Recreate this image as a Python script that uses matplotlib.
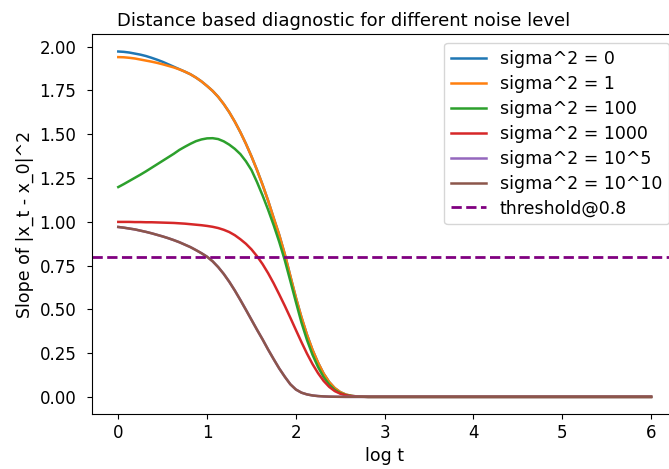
import matplotlib
matplotlib.use('Agg')
import matplotlib.pyplot as plt

# log t sample points (step 0.0625 up to 3, then the flat tail out to 6)
log_t = [0.0, 0.0625, 0.125, 0.1875, 0.25, 0.3125, 0.375, 0.4375,
         0.5, 0.5625, 0.625, 0.6875, 0.75, 0.8125, 0.875, 0.9375,
         1.0, 1.0625, 1.125, 1.1875, 1.25, 1.3125, 1.375, 1.4375,
         1.5, 1.5625, 1.625, 1.6875, 1.75, 1.8125, 1.875, 1.9375,
         2.0, 2.0625, 2.125, 2.1875, 2.25, 2.3125, 2.375, 2.4375,
         2.5, 2.5625, 2.625, 2.6875, 2.75, 2.8125, 2.875, 2.9375,
         3.0, 6.0]

# slope values, one list per noise level
slope_0 = [1.972, 1.970, 1.966, 1.960, 1.954, 1.946, 1.936, 1.925,
           1.913, 1.899, 1.885, 1.871, 1.857, 1.842, 1.823, 1.801,
           1.775, 1.747, 1.713, 1.672, 1.625, 1.571, 1.511, 1.445,
           1.373, 1.295, 1.211, 1.120, 1.021, 0.925, 0.815, 0.690,
           0.567, 0.455, 0.355, 0.268, 0.195, 0.133, 0.085, 0.050,
           0.027, 0.013, 0.006, 0.0025, 0.001, 0.0, 0.0, 0.0,
           0.0, 0.0]
slope_1 = [1.940, 1.939, 1.936, 1.932, 1.926, 1.920, 1.914, 1.907,
           1.899, 1.890, 1.881, 1.870, 1.857, 1.842, 1.823, 1.801,
           1.775, 1.747, 1.713, 1.672, 1.625, 1.571, 1.511, 1.445,
           1.373, 1.295, 1.211, 1.120, 1.021, 0.925, 0.815, 0.690,
           0.567, 0.455, 0.355, 0.268, 0.195, 0.133, 0.085, 0.050,
           0.027, 0.013, 0.006, 0.0025, 0.001, 0.0, 0.0, 0.0,
           0.0, 0.0]
slope_100 = [1.198, 1.215, 1.233, 1.251, 1.269, 1.288, 1.308, 1.328,
             1.348, 1.368, 1.388, 1.410, 1.428, 1.445, 1.460, 1.470,
             1.476, 1.477, 1.472, 1.459, 1.440, 1.416, 1.386, 1.345,
             1.295, 1.226, 1.150, 1.068, 0.980, 0.885, 0.780, 0.662,
             0.542, 0.425, 0.325, 0.240, 0.170, 0.113, 0.070, 0.040,
             0.021, 0.010, 0.0045, 0.002, 0.0008, 0.0, 0.0, 0.0,
             0.0, 0.0]
slope_1000 = [0.999, 0.999, 0.999, 0.998, 0.998, 0.997, 0.997, 0.996,
              0.995, 0.994, 0.993, 0.991, 0.989, 0.986, 0.983, 0.980,
              0.976, 0.971, 0.964, 0.954, 0.941, 0.923, 0.900, 0.874,
              0.842, 0.803, 0.758, 0.706, 0.648, 0.585, 0.520, 0.452,
              0.382, 0.313, 0.247, 0.187, 0.135, 0.091, 0.057, 0.033,
              0.018, 0.009, 0.004, 0.0015, 0.0005, 0.0, 0.0, 0.0,
              0.0, 0.0]
slope_1e5 = [0.970, 0.966, 0.961, 0.956, 0.949, 0.942, 0.934, 0.925,
             0.916, 0.906, 0.895, 0.883, 0.869, 0.855, 0.838, 0.820,
             0.800, 0.774, 0.741, 0.702, 0.657, 0.607, 0.553, 0.497,
             0.440, 0.383, 0.328, 0.270, 0.215, 0.162, 0.115, 0.072,
             0.042, 0.024, 0.014, 0.008, 0.0045, 0.0025, 0.0012, 0.0006,
             0.0003, 0.0, 0.0, 0.0, 0.0, 0.0, 0.0, 0.0,
             0.0, 0.0]
slope_1e10 = [0.970, 0.966, 0.961, 0.956, 0.949, 0.942, 0.934, 0.925,
              0.916, 0.906, 0.895, 0.883, 0.869, 0.855, 0.838, 0.820,
              0.800, 0.774, 0.741, 0.702, 0.657, 0.607, 0.553, 0.497,
              0.440, 0.383, 0.328, 0.270, 0.215, 0.162, 0.115, 0.072,
              0.042, 0.024, 0.014, 0.008, 0.0045, 0.0025, 0.0012, 0.0006,
              0.0003, 0.0, 0.0, 0.0, 0.0, 0.0, 0.0, 0.0,
              0.0, 0.0]

labels = ['sigma^2 = 0', 'sigma^2 = 1', 'sigma^2 = 100', 'sigma^2 = 1000',
          'sigma^2 = 10^5', 'sigma^2 = 10^10']
threshold = 0.8

plt.rcParams['font.size'] = 12

fig = plt.figure(figsize=(6.69, 4.69), dpi=100)
# the right spine sits just past the edge of the picture, as in the reference
ax = fig.add_axes([0.137, 0.117, 0.876, 0.810])

for s, lab in zip([slope_0, slope_1, slope_100, slope_1000, slope_1e5, slope_1e10], labels):
    ax.plot(log_t, s, label=lab, lw=1.8)
ax.axhline(threshold, color='purple', ls='--', lw=2, label='threshold@0.8')

# title is centred on the uncropped figure, so it sits left of the axes centre
ax.set_title('Distance based diagnostic for different noise level', fontsize=13, x=0.43)
ax.set_xlabel('log t', fontsize=12.5)
ax.set_ylabel('Slope of |x_t - x_0|^2', fontsize=12.5)
ax.tick_params(axis='y', pad=7.5)
ax.legend(loc='upper right', fontsize=12.5, labelspacing=0.4)

fig.savefig('out.png', dpi=100)
